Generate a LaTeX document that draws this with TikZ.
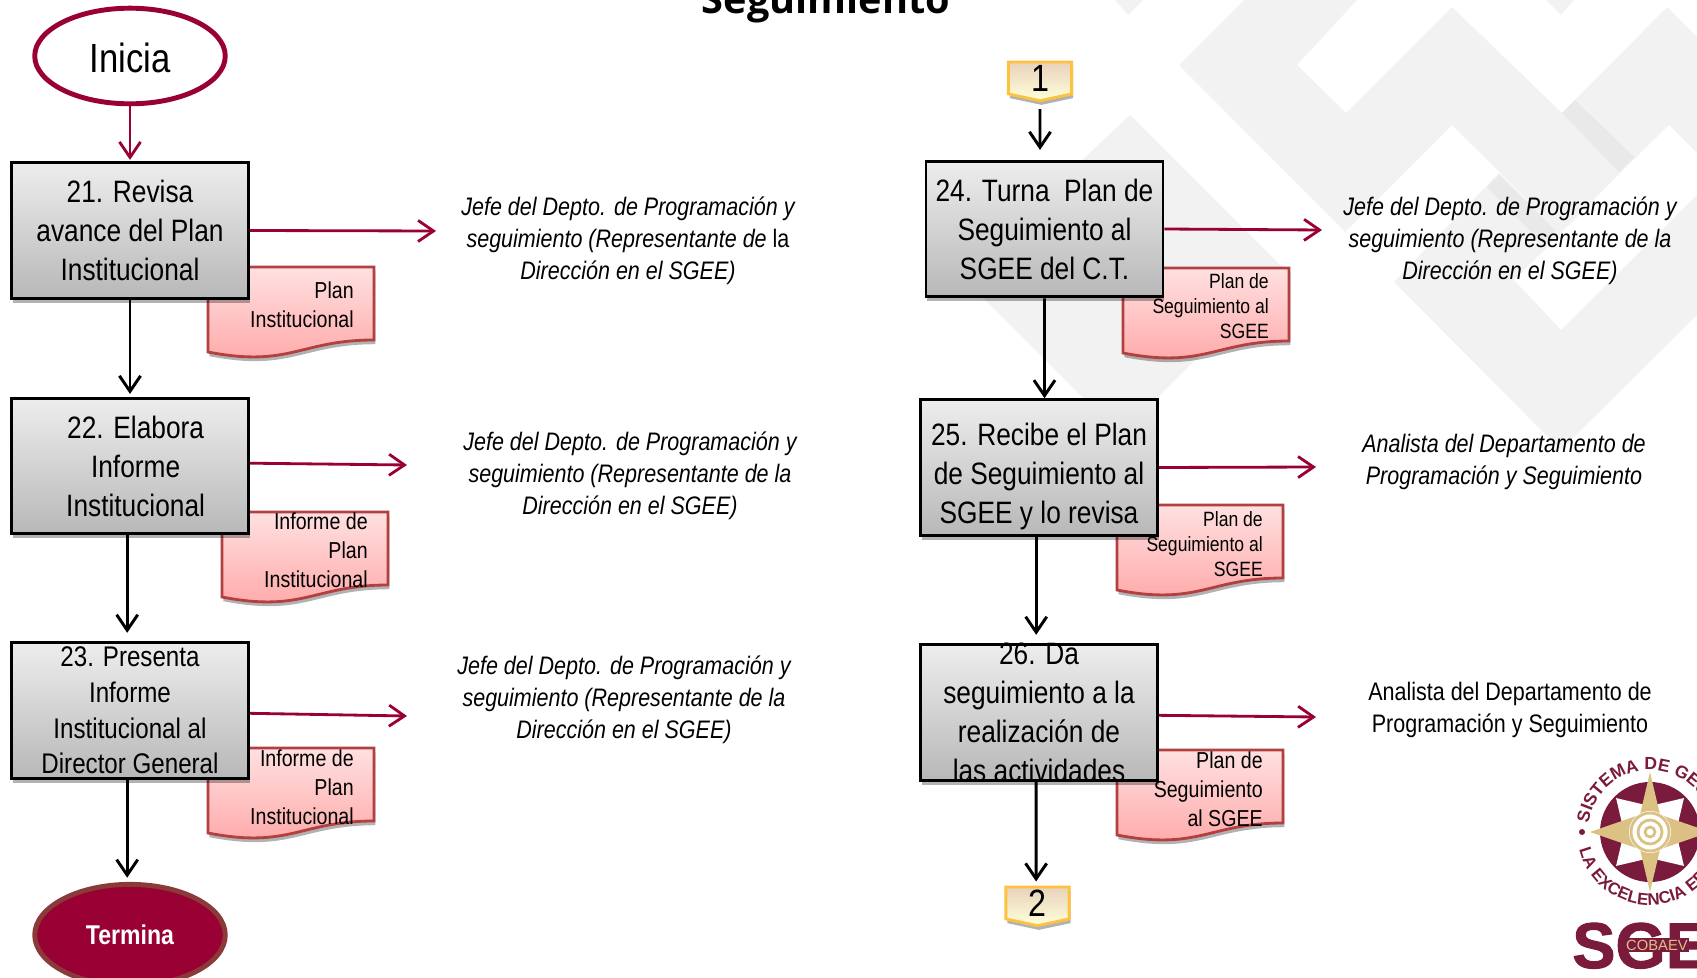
\documentclass[tikz,border=0pt]{standalone}
\usepackage{fontspec}
\setmainfont[FakeStretch=0.85]{Liberation Sans}
\newfontfamily\titlefont{Open Sans}
\newfontfamily\logofont{Liberation Sans}
\newfontfamily\sgeefont[FakeBold=1.5]{Liberation Sans}
\usetikzlibrary{arrows.meta,shapes.geometric,shapes.symbols,shadows,decorations.text}
\definecolor{guinda}{HTML}{990033}
\definecolor{guindaborde}{HTML}{8B3A3A}
\definecolor{logoguinda}{HTML}{7A1B3D}
\definecolor{oro}{HTML}{DCC184}
\definecolor{marca}{HTML}{F2F2F2}
\definecolor{marcados}{HTML}{E9E9E9}
\newcommand{\docsheet}[1]{\draw [docshape] (#1) -- ++(166,0) -- ++(0,-73) .. controls +(-74,0) and +(82,-16) .. +(-166,-12) -- cycle;}

\begin{document}
\begin{tikzpicture}[x=0.025cm,y=0.025cm]
		\tikzstyle{softshadow}=[drop shadow={shadow xshift=1pt,shadow yshift=-3pt,opacity=0.3,fill=black}]
		\tikzstyle{procbox}=[draw=black,line width=2pt,top color=black!7,bottom color=black!28,softshadow,minimum width=168.5pt,minimum height=96.5pt,inner xsep=0pt,inner ysep=-30pt,align=center,font=\fontsize{22}{27.7}\selectfont,execute at begin node={\rule{0pt}{18.5pt}}]
		\tikzstyle{procsmall}=[font=\fontsize{20.2}{25.3}\selectfont]
		\tikzstyle{docshape}=[draw={red!60!black!75!white},line width=2pt,top color=red!12,bottom color=red!35,softshadow]
		\tikzstyle{doctext}=[anchor=east,inner sep=0pt,align=right,font=\fontsize{16.4}{20.5}\selectfont]
		\tikzstyle{docsmall}=[font=\fontsize{14.7}{18}\selectfont]
		\tikzstyle{roletext}=[inner sep=0pt,align=center,font=\itshape\fontsize{18}{22.7}\selectfont]
		\tikzstyle{pagemark}=[shape=signal,signal to=south,signal from=nowhere,signal pointer angle=156,draw=orange!65!yellow!75!white,line width=2pt,top color=brown!35!white,bottom color=yellow!15!white,softshadow,minimum width=45pt,minimum height=24pt,inner sep=0pt,font=\fontsize{27}{27}\selectfont]
		\tikzstyle{blackline}=[black,line width=2.1pt,-{Straight Barb[length=11pt,width=15pt,line width=2.1pt]}]
		\tikzstyle{redline}=[guinda,line width=2pt,-{Straight Barb[length=11pt,width=15pt,line width=2pt]}]
		\useasboundingbox (0,0) rectangle (1697,-978);

		\fill [marca] (1179,-65) -- (1244,0) -- (1357,0) -- (1297,-65) -- (1346,-113) -- (1452,-7) -- (1562,-113) -- (1667,-7) -- (1697,-37) -- (1697,-153) -- (1669,-125) -- (1621,-172) -- (1561,-233) -- (1452,-125) -- (1345,-232) -- cycle;
		\fill [marca] (1394,-282) -- (1499,-173) -- (1561,-233) -- (1514,-280) -- (1561,-330) -- (1697,-195) -- (1697,-315) -- (1561,-450) -- cycle;
		\fill [marca] (1130,-115) -- (1285,-270) -- (1120,-435) -- (960,-275) -- cycle;
		\fill [marca] (1115,0) -- (1143,0) -- (1128,-15) -- cycle;
		\fill [marca] (1546,0) -- (1574,0) -- (1561,-15) -- cycle;
		\fill [marcados] (1562,-113) -- (1575,-100) -- (1634,-157) -- (1619,-172) -- cycle;
		\fill [marcados] (1487,-187) -- (1499,-175) -- (1555,-230) -- (1542,-243) -- cycle;

		\node [inner sep=0pt,anchor=base,font=\titlefont\bfseries\fontsize{28.2}{28.2}\selectfont] (titulo) at (826,-14) {Seguimiento};

		\docsheet{208,-267}
		\docsheet{222,-512}
		\docsheet{208,-748}
		\docsheet{1123,-268}
		\docsheet{1117,-505}
		\docsheet{1117,-750}

		\node [doctext] (d21) at (354,-305) {Plan\\Institucional};
		\node [doctext] (d22) at (368,-550) {Informe de\\Plan\\Institucional};
		\node [doctext] (d23) at (354,-787) {Informe de\\Plan\\Institucional};
		\node [doctext,docsmall] (d24) at (1269,-306) {Plan de\\Seguimiento al\\SGEE};
		\node [doctext,docsmall] (d25) at (1263,-544) {Plan de\\Seguimiento al\\SGEE};
		\node [doctext] (d26) at (1263,-789) {Plan de\\Seguimiento\\al SGEE};

		\node [ellipse,draw=guinda,fill=white,line width=3.5pt,minimum width=135.5pt,minimum height=68pt,inner sep=0pt,font=\fontsize{29}{29}\selectfont] (inicia) at (130,-56) {\rule{0pt}{24pt}Inicia};
		\node [ellipse,draw=guindaborde,fill=guinda,text=white,line width=3.5pt,minimum width=135.5pt,minimum height=72pt,inner sep=0pt,font=\bfseries\fontsize{19.3}{19.3}\selectfont] (termina) at (130,-935) {Termina};

		\node [procbox] (b21) at (130,-230.5) {21. Revisa\\avance del Plan\\Institucional};
		\node [procbox] (b22) at (130,-466) {\hspace*{8pt}22. Elabora\\\hspace*{8pt}Informe\\\hspace*{8pt}Institucional};
		\node [procbox,procsmall] (b23) at (130,-710.5) {23. Presenta\\Informe\\Institucional al\\Director General};
		\node [procbox] (b24) at (1044.5,-229) {24. Turna\ \ Plan de\\Seguimiento al\\SGEE del C.T.};
		\node [procbox] (b25) at (1039,-467.5) {\rule{0pt}{29pt}25. Recibe el Plan\\de Seguimiento al\\SGEE y lo revisa};
		\node [procbox] (b26) at (1039,-712.5) {26. Da\\seguimiento a la\\realización de\\las actividades};

		\node [pagemark] (p1) at (1040,-78) {1};
		\node [pagemark] (p2) at (1037.5,-903) {2};

		\node [roletext] (r21) at (628,-241) {Jefe del Depto. de Programación y\\seguimiento (Representante de \textup{la}\\Dirección en el SGEE)};
		\node [roletext] (r22) at (630,-476) {Jefe del Depto. de Programación y\\seguimiento (Representante de la\\Dirección en el SGEE)};
		\node [roletext] (r23) at (624,-700) {Jefe del Depto. de Programación y\\seguimiento (Representante de la\\Dirección en el SGEE)};
		\node [roletext] (r24) at (1510,-241) {Jefe del Depto. de Programación y\\seguimiento (Representante de la\\Dirección en el SGEE)};
		\node [roletext] (r25) at (1504,-462) {Analista del Departamento de\\Programación y Seguimiento};
		\node [roletext,font=\fontsize{18}{22.7}\selectfont] (r26) at (1510,-710) {Analista del Departamento de\\Programación y Seguimiento};

		\coordinate (t21) at (436,-231);
		\coordinate (t22) at (407,-465);
		\coordinate (t23) at (407,-716);
		\coordinate (t24) at (1322,-230);
		\coordinate (t25) at (1316,-467);
		\coordinate (t26) at (1316,-717);

		\draw [redline,shorten >=1pt] (inicia) -- (b21);
		\draw [blackline,shorten >=2pt] (b21) -- (b22);
		\draw [blackline,shorten >=6pt] ([xshift=-2pt]b22.south) -- ([xshift=-2pt]b23.north);
		\draw [blackline,shorten >=3pt] ([xshift=-2pt]b23.south) -- ([xshift=-2pt]termina.north);
		\draw [blackline,shorten <=5pt,shorten >=7pt] (p1.south) -- ([xshift=-3.2pt]b24.north);
		\draw [blackline,shorten >=0pt] (b24.south) -- ([xshift=3.9pt]b25.north);
		\draw [blackline,shorten >=6pt] ([xshift=-2pt]b25.south) -- ([xshift=-2pt]b26.north);
		\draw [blackline,shorten >=3pt] ([xshift=-2pt]b26.south) -- ([xshift=-1pt]p2.north);

		\draw [redline] (b21.east) -- (t21);
		\draw [redline] ([yshift=2pt]b22.east) -- (t22);
		\draw [redline] ([yshift=-2pt]b23.east) -- (t23);
		\draw [redline] (b24.east) -- (t24);
		\draw [redline] (b25.east) -- (t25);
		\draw [redline] ([yshift=-2pt]b26.east) -- (t26);

		\begin{scope}[shift={(1650,-832)}]
			\fill [logoguinda] (0,0) circle (50);
			\fill [white] (45:48) -- (90:26) -- (135:48) -- (180:26) -- (225:48) -- (270:26) -- (315:48) -- (0:26) -- cycle;
			\fill [oro] (90:60) -- (60:20) -- (0:60) -- (-60:20) -- (-90:60) -- (-120:20) -- (180:60) -- (120:20) -- cycle;
			\fill [white] (0,0) circle (21);
			\draw [oro,line width=2pt] (0,0) circle (19) (0,0) circle (12) (0,0) circle (5);
			\path [decorate,decoration={text along path,text color=logoguinda,text={|\logofont\bfseries\fontsize{12.5}{12.5}\selectfont|SISTEMA DE GESTIÓN}}] (172:62) arc (172:-30:62);
			\path [decorate,decoration={text along path,text color=logoguinda,text={|\logofont\bfseries\fontsize{12}{12}\selectfont|LA EXCELENCIA EDUCATIVA}}] (194:73) arc (194:380:73);
			\fill [logoguinda] (180:68) circle (3);
		\end{scope}
		\node [anchor=base west,inner sep=0pt,text=logoguinda,font=\sgeefont\bfseries\fontsize{46}{46}\selectfont] (sgee) at (1572,-968) {SGEE};
		\node [anchor=center,fill=logoguinda,text=oro,inner xsep=1pt,inner ysep=1pt,font=\logofont\fontsize{10.5}{10.5}\selectfont] (cobaev) at (1657,-945) {COBAEV};
	\end{tikzpicture}
\end{document}
